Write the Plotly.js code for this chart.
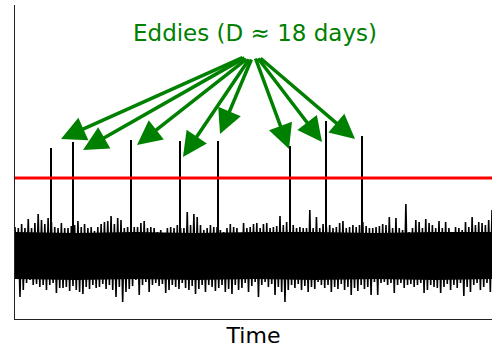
<!DOCTYPE html>
<html>
<head>
<meta charset="utf-8">
<script src="https://cdn.plot.ly/plotly-3.0.1.min.js"></script>
<style>html,body{margin:0;padding:0;background:#fff;}#chart{width:492px;height:349px;}</style>
</head>
<body>
<div id="chart"></div>
<script>
const noiseHigh = [
  29,28,32,28,37,28,33,42,36,32,38,34,29,28,33,28,28,30,31,35,29,32,28,29,25,29,32,34,35,40,32,38,36,28,29,30,29,
  29,33,35,28,29,28,24,26,22,28,29,28,31,28,28,44,31,42,39,31,26,28,31,29,29,26,24,28,32,29,28,21,33,28,29,32,
  33,28,32,33,28,29,30,40,31,34,33,31,28,29,28,28,46,28,39,28,32,29,31,28,29,33,35,28,29,31,29,31,34,30,28,
  28,29,30,32,31,39,28,38,28,26,52,24,28,36,34,28,37,33,31,28,35,28,34,28,24,29,28,26,34,29,39,31,34,33,31,36,46
];
const noiseLow = [
  -22,-41,-34,-27,-24,-29,-28,-31,-29,-34,-29,-27,-37,-32,-32,-31,-35,-30,-34,-36,-38,-31,-33,-29,-32,-31,-28,-33,-29,-34,-41,-31,-46,-36,-33,-30,-24,
  -39,-29,-26,-36,-29,-27,-30,-28,-37,-34,-29,-31,-33,-27,-32,-34,-30,-38,-33,-29,-36,-29,-31,-35,-32,-29,-36,-33,-38,-29,-34,-32,-27,-36,-30,-26,
  -41,-29,-26,-31,-28,-39,-31,-36,-46,-34,-29,-32,-28,-34,-30,-36,-31,-33,-26,-29,-32,-29,-36,-31,-33,-28,-34,-31,-39,-32,-35,-29,-33,-31,-39,
  -26,-39,-27,-26,-29,-27,-37,-29,-27,-32,-29,-28,-31,-29,-27,-37,-34,-29,-31,-32,-37,-31,-28,-34,-29,-32,-27,-40,-31,-36,-29,-27,-34,-31,-27,-36,-29
];
// Solid core of the noise band
const coreTime   = [0, 60, 120, 180, 240, 300, 360, 420, 477];
const coreTop    = [24, 23, 24, 23, 24, 24, 23, 24, 24];
const coreBottom = [-23, -24, -23, -24, -23, -24, -23, -24, -23];
const timeEnd = 477;

// Eddy events (spikes)
const spikeTime  = [36, 58, 116, 165, 203, 275, 311, 347];
const spikeValue = [108, 114, 116, 115, 115, 110, 135, 120];
const threshold = 78;

// Arrows from the label to the eddies
const arrowTipTime   = [46, 68, 122, 168, 205, 274, 307, 340];
const arrowTipValue  = [117, 106, 111, 99, 122, 107, 114, 117];
const arrowTailTime  = [229, 231, 233, 235, 237, 240, 242, 244];
const arrowTailValue = [199, 199, 198, 198, 198, 199, 199, 199];
const labelText = 'Eddies (D \u2248 18 days)';
const labelTime = 240, labelValue = 223;

const step = timeEnd / (noiseHigh.length - 1);
const nx = [], ny = [];
noiseHigh.forEach((h, i) => {
  nx.push(i * step); ny.push(h);
  nx.push(i * step + step / 2); ny.push(noiseLow[i]);
});

const sx = [], sy = [];
spikeTime.forEach((t, i) => { sx.push(t, t, null); sy.push(0, spikeValue[i], null); });

const traces = [
  {x: coreTime.concat(coreTime.slice().reverse()), y: coreTop.concat(coreBottom.slice().reverse()),
   fill: 'toself', fillcolor: '#000', mode: 'lines', line: {width: 0}, hoverinfo: 'skip'},
  {x: nx, y: ny, mode: 'lines', line: {color: '#000', width: 1.6}},
  {x: sx, y: sy, mode: 'lines', line: {color: '#000', width: 2}}
];

const annotations = arrowTipTime.map((t, i) => ({
  x: t, y: arrowTipValue[i], xref: 'x', yref: 'y',
  ax: arrowTailTime[i], ay: arrowTailValue[i], axref: 'x', ayref: 'y',
  text: '', showarrow: true, arrowhead: 2, arrowsize: 1.4, arrowwidth: 3.5,
  arrowcolor: '#008000', standoff: 0, startstandoff: 0
}));
annotations.push({
  x: labelTime, y: labelValue, xref: 'x', yref: 'y', text: labelText, showarrow: false,
  xanchor: 'center', yanchor: 'middle',
  font: {family: 'DejaVu Sans', size: 23, color: '#008000'}
});

const layout = {
  width: 492, height: 349,
  margin: {l: 15, r: 0, t: 5, b: 30},
  paper_bgcolor: '#fff', plot_bgcolor: '#fff',
  showlegend: false,
  xaxis: {range: [0, timeEnd], showgrid: false, zeroline: false, showticklabels: false, ticks: '',
          showline: true, linecolor: '#222', linewidth: 1,
          title: {text: 'Time', font: {family: 'DejaVu Sans', size: 22, color: '#000'}, standoff: 8}},
  yaxis: {range: [-63, 251], showgrid: false, zeroline: false, showticklabels: false, ticks: '',
          showline: true, linecolor: '#222', linewidth: 1},
  shapes: [{type: 'line', xref: 'paper', x0: 0, x1: 1, yref: 'y', y0: threshold, y1: threshold,
            line: {color: '#ff0000', width: 3}}],
  annotations: annotations
};

Plotly.newPlot('chart', traces, layout, {staticPlot: true, displayModeBar: false});
</script>
</body>
</html>
